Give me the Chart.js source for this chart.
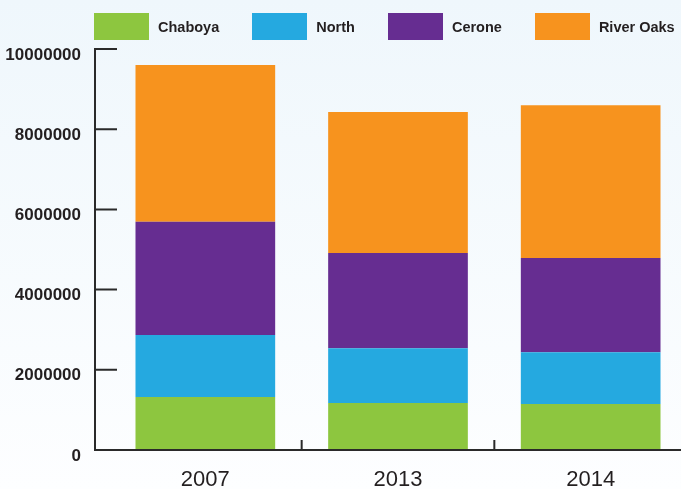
<!DOCTYPE html>
<html>
<head>
<meta charset="utf-8">
<script src="https://cdn.jsdelivr.net/npm/chart.js@4/dist/chart.umd.min.js"></script>
<style>
  html, body { margin: 0; padding: 0; overflow: hidden; }
  body {
    width: 681px; height: 489px;
    background: linear-gradient(#eff7fc, #fdfeff);
    position: relative;
  }
  #wrap { position: absolute; left: 0; top: 0; width: 687px; height: 489px; }
  #legend {
    position: absolute; left: 94px; top: 13px;
    display: flex; gap: 33px; align-items: center; white-space: nowrap;
    font-family: 'Liberation Sans', Arial, sans-serif;
    font-weight: bold; font-size: 14.5px; color: #231f20;
  }
  #legend .item { display: flex; align-items: center; }
  #legend .box { width: 55px; height: 27px; margin-right: 9px; }
</style>
</head>
<body>
<div id="wrap"><canvas id="chart"></canvas></div>
<div id="legend"></div>
<script>
(function () {
  const years = ['2007', '2013', '2014'];
  const chaboya   = [1320000, 1170000, 1150000];
  const north     = [1550000, 1370000, 1290000];
  const cerone    = [2820000, 2370000, 2350000];
  const riverOaks = [3910000, 3520000, 3810000];
  const yTicks = [0, 2000000, 4000000, 6000000, 8000000, 10000000];

  const FONT = "'Liberation Sans', Arial, sans-serif";
  const INK = '#231f20';
  const AXIS_GAP = 14;   // y axis line sits a bit left of the first category

  // axis lines + inside tick marks, like the original
  const axisMarks = {
    id: 'axisMarks',
    afterDraw(chart) {
      const { ctx, chartArea, scales: { x, y } } = chart;
      const ax = chartArea.left - AXIS_GAP;
      const base = y.getPixelForValue(0);
      ctx.save();
      ctx.strokeStyle = '#2a2a2a';
      ctx.lineWidth = 2;
      ctx.beginPath();
      ctx.moveTo(ax, y.getPixelForValue(yTicks[yTicks.length - 1]) - 1);
      ctx.lineTo(ax, base);
      ctx.lineTo(chart.width, base);
      yTicks.forEach(v => {
        const py = y.getPixelForValue(v);
        ctx.moveTo(ax, py);
        ctx.lineTo(ax + 22, py);
      });
      for (let i = 1; i < years.length; i++) {
        const px = (x.getPixelForValue(i - 1) + x.getPixelForValue(i)) / 2;
        ctx.moveTo(px, base);
        ctx.lineTo(px, base - 10);
      }
      ctx.stroke();
      ctx.restore();
    }
  };

  const chart = new Chart(document.getElementById('chart'), {
    type: 'bar',
    data: {
      labels: years,
      datasets: [
        { label: 'Chaboya',    data: chaboya,   backgroundColor: '#8dc63f' },
        { label: 'North',      data: north,     backgroundColor: '#25a9e0' },
        { label: 'Cerone',     data: cerone,    backgroundColor: '#662d91' },
        { label: 'River Oaks', data: riverOaks, backgroundColor: '#f7931e' }
      ]
    },
    options: {
      responsive: true,
      maintainAspectRatio: false,
      animation: false,
      layout: { padding: { top: 49, left: 0, right: 0, bottom: 0 } },
      datasets: { bar: { barPercentage: 0.725, categoryPercentage: 1 } },
      scales: {
        x: {
          stacked: true,
          grid: { display: false, drawTicks: false },
          border: { display: false },
          afterFit: s => { s.height = 39; },
          ticks: { color: INK, padding: 17, font: { family: FONT, size: 22 } }
        },
        y: {
          stacked: true,
          min: 0,
          max: 10000000,
          afterBuildTicks: s => { s.ticks = yTicks.map(v => ({ value: v })); },
          afterFit: s => { s.width = 109; },
          grid: { display: false, drawTicks: false },
          border: { display: false },
          ticks: {
            color: INK, padding: 28, labelOffset: 6,
            font: { family: FONT, size: 17, weight: 'bold' },
            callback: v => String(v)
          }
        }
      },
      plugins: {
        legend: { display: false },
        tooltip: { enabled: false }
      }
    },
    plugins: [axisMarks]
  });

  // legend as html, built from the datasets
  const legend = document.getElementById('legend');
  chart.data.datasets.forEach(ds => {
    const item = document.createElement('div');
    item.className = 'item';
    const box = document.createElement('span');
    box.className = 'box';
    box.style.background = ds.backgroundColor;
    const txt = document.createElement('span');
    txt.textContent = ds.label;
    item.appendChild(box);
    item.appendChild(txt);
    legend.appendChild(item);
  });
})();
</script>
</body>
</html>
